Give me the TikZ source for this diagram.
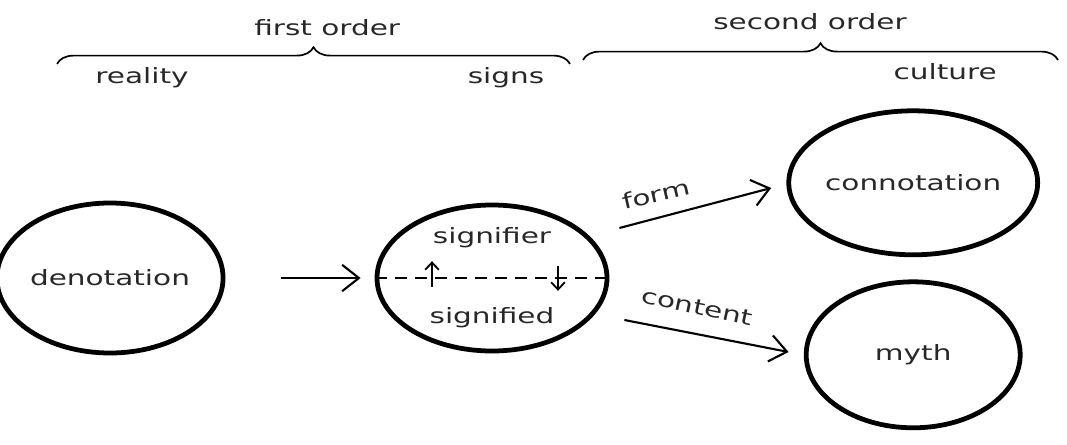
\documentclass[tikz,border=0pt]{standalone}
\usepackage{fontspec}
\setmainfont{DejaVu Sans}[FakeStretch=1.4]
\usepackage{tikz}
\usetikzlibrary{shapes.geometric,arrows.meta,positioning,calc,
                decorations.pathreplacing}
\definecolor{texte}{RGB}{40,40,40}

\begin{document}
\begin{tikzpicture}[font=\fontsize{15}{18}\selectfont, text=texte,
  el/.style={ellipse,draw=black,line width=3.4pt,inner sep=0pt},
  a/.style={-{Straight Barb[length=0.42cm,width=0.66cm,line width=1.5pt]},line width=1.5pt},
  br/.style={decorate,decoration={brace,amplitude=0.42cm},line width=1.2pt},
  petit/.style={-{Straight Barb[length=0.18cm,width=0.34cm]},line width=1.3pt}]

  \useasboundingbox (0,0) rectangle (26.675,11.1);

  % accolades du haut
  \draw[br] (1.425,9.5) -- (14.25,9.5);
  \draw[br] (14.575,9.6) -- (26.45,9.6);
  \node (ord1) at (8.18,10.4)  {first order};
  \node (ord2) at (20.25,10.55) {second order};
  \node (real) at (3.55,9.15)  {reality};
  \node (sgns) at (12.65,9.15) {signs};
  \node (cult) at (23.63,9.3)  {culture};

  % ellipses
  \node[el,minimum width=5.25cm,minimum height=3.75cm] (den)  at (2.75,4.15)  {denotation};
  \node[el,minimum width=5.75cm,minimum height=3.65cm] (sig)  at (12.3,4.15)  {};
  \node[el,minimum width=5.35cm,minimum height=3.6cm]  (conn) at (22.83,6.53) {connotation};
  \node[el,minimum width=5.35cm,minimum height=3.65cm] (myth) at (22.83,2.23) {myth};

  \node (sfr) at ([yshift=1cm]sig.center)  {signifier};
  \node (sfd) at ([yshift=-1cm]sig.center) {signified};

  % barre et petites flèches
  \draw[dashed,dash pattern=on 0.3cm off 0.2cm,line width=1.2pt] (sig.west) -- (sig.east);
  \coordinate (up0) at ($(sig.center)+(-1.5,-0.22)$);
  \coordinate (up1) at ($(sig.center)+(-1.5,0.42)$);
  \coordinate (dn0) at ($(sig.center)+(1.65,0.3)$);
  \coordinate (dn1) at ($(sig.center)+(1.65,-0.32)$);
  \draw[petit] (up0) -- (up1);
  \draw[petit] (dn0) -- (dn1);

  % flèches
  \draw[a,shorten <=1.4cm,shorten >=0.35cm] (den) -- (sig);
  \draw[a] ($(sig.east)+(0.25,1.25)$) -- ($(conn.west)+(-0.38,-0.13)$);
  \draw[a] ($(sig.east)+(0.375,-1.05)$) -- ($(myth.west)+(-0.38,0.07)$);
  \node[rotate=13]  (frm) at (16.4,6.25) {form};
  \node[rotate=-12] (cnt) at (17.43,3.42) {content};
\end{tikzpicture}
\end{document}
